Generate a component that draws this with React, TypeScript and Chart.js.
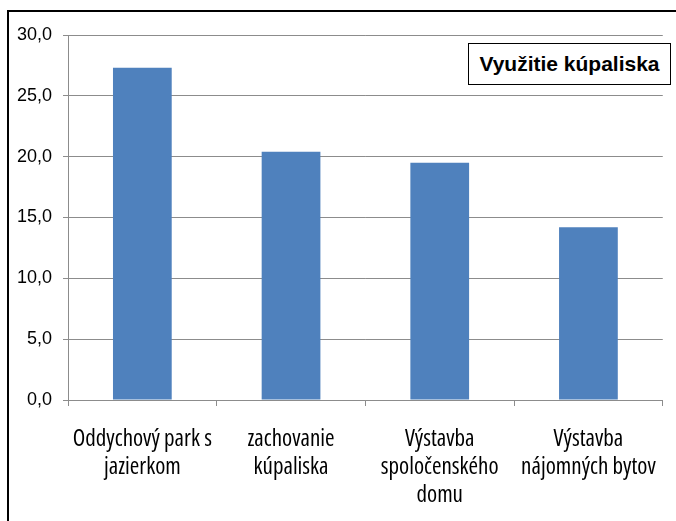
import React, { useEffect, useRef } from "react";
import { Chart, registerables } from "chart.js";

Chart.register(...registerables);

const categories: string[][] = [
  ["Oddychový park s", "jazierkom"],
  ["zachovanie", "kúpaliska"],
  ["Výstavba", "spoločenského", "domu"],
  ["Výstavba", "nájomných bytov"],
];
const values: number[] = [27.3, 20.4, 19.5, 14.2];
const yMin = 0;
const yMax = 30;
const yStep = 5;
const titleText = "Využitie kúpaliska";

const GRID = "#8c8c8c";
const BAR = "#4f81bd";

export default function App() {
  const ref = useRef<HTMLCanvasElement | null>(null);

  useEffect(() => {
    if (!ref.current) return;
    const chart = new Chart(ref.current, {
      type: "bar",
      data: {
        labels: categories,
        datasets: [
          {
            data: values,
            backgroundColor: BAR,
            borderWidth: 0,
            barPercentage: 0.395,
            categoryPercentage: 1,
          },
        ],
      },
      options: {
        animation: false,
        responsive: false,
        maintainAspectRatio: false,
        devicePixelRatio: 1,
        layout: { padding: { top: 35, right: 10, left: 0, bottom: 0 } },
        plugins: {
          legend: { display: false },
          title: { display: false },
          tooltip: { enabled: false },
        },
        scales: {
          x: {
            offset: true,
            grid: {
              offset: true,
              drawOnChartArea: false,
              drawTicks: true,
              tickLength: 6,
              color: GRID,
              lineWidth: 1,
            },
            border: { color: GRID, width: 1 },
            ticks: {
              color: "#000",
              padding: 19,
              maxRotation: 0,
              autoSkip: false,
              font: {
                family: "'Open Sans', 'Liberation Sans', sans-serif",
                weight: "condensed" as any,
                size: 23,
                lineHeight: 1.23,
              },
            },
            afterFit: (scale: any) => {
              scale.height = 121;
            },
          },
          y: {
            min: yMin,
            max: yMax,
            grid: {
              color: GRID,
              lineWidth: 1,
              tickLength: 5,
            },
            border: { color: GRID, width: 1 },
            ticks: {
              stepSize: yStep,
              color: "#000",
              padding: 11,
              font: {
                family: "'Liberation Sans', Arial, sans-serif",
                size: 18,
              },
              callback: (v: any) => Number(v).toFixed(1).replace(".", ","),
            },
            afterFit: (scale: any) => {
              scale.width = 68;
            },
          },
        },
      },
    });
    return () => chart.destroy();
  }, []);

  return (
    <div
      style={{
        position: "fixed",
        left: 0,
        top: 0,
        width: 676,
        height: 521,
        overflow: "hidden",
        background: "#fff",
      }}
    >
      <canvas
        ref={ref}
        width={676}
        height={521}
        style={{ position: "absolute", left: 0, top: 0, width: 676, height: 521 }}
      />
      <div
        style={{
          position: "absolute",
          left: 7,
          top: 10,
          width: 720,
          height: 600,
          borderLeft: "2px solid #000",
          borderTop: "2px solid #000",
          pointerEvents: "none",
        }}
      />
      <div
        style={{
          position: "absolute",
          left: 468,
          top: 43,
          width: 201,
          height: 40,
          border: "1.5px solid #000",
          background: "#fff",
          display: "flex",
          alignItems: "center",
          justifyContent: "center",
          fontFamily: "'Liberation Sans', Arial, sans-serif",
          fontWeight: "bold",
          fontSize: 21,
          color: "#000",
          boxSizing: "content-box",
        }}
      >
        {titleText}
      </div>
    </div>
  );
}
